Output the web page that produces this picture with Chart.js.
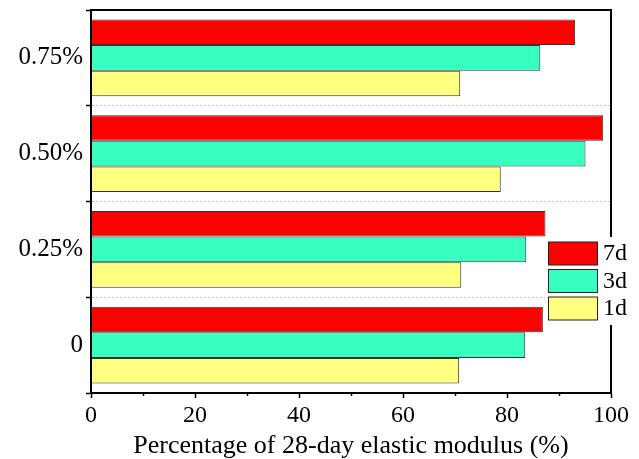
<!DOCTYPE html>
<html>
<head>
<meta charset="utf-8">
<script src="https://cdn.jsdelivr.net/npm/chart.js@4/dist/chart.umd.min.js"></script>
<style>
  html, body { margin: 0; padding: 0; background: #fff; }
  #wrap { width: 639px; height: 459px; }
</style>
</head>
<body>
<div id="wrap"><canvas id="chart" width="639" height="459"></canvas></div>
<script>
// fiber dosage groups, bottom to top
const dosages = ['0', '0.25%', '0.50%', '0.75%'];
// percentage of the 28-day elastic modulus
const day1 = [70.8, 71.2, 78.8, 71.0];
const day3 = [83.5, 83.7, 95.1, 86.4];
const day7 = [86.9, 87.4, 98.5, 93.1];
const xTicks = [0, 20, 40, 60, 80, 100];
const xMinor = [10, 30, 50, 70, 90];

const serif = '"Liberation Serif", "Times New Roman", serif';

// frame, minor ticks and the boxed legend
const extras = {
  id: 'extras',
  afterDraw(chart) {
    const ctx = chart.ctx;
    const a = chart.chartArea;
    const xs = chart.scales.x;
    ctx.save();
    ctx.strokeStyle = '#000';
    ctx.lineWidth = 2;
    ctx.setLineDash([]);
    ctx.strokeRect(a.left, a.top, a.right - a.left, a.bottom - a.top);
    ctx.lineWidth = 1.5;
    xMinor.forEach(v => {
      const px = Math.round(xs.getPixelForValue(v)) + 0.5;
      ctx.beginPath();
      ctx.moveTo(px, a.bottom);
      ctx.lineTo(px, a.bottom + 3);
      ctx.stroke();
    });

    // legend (7d on top)
    ctx.fillStyle = '#fff';
    ctx.fillRect(545, 237, 90, 88);
    const sets = chart.data.datasets;
    ctx.font = '24px ' + serif;
    ctx.textBaseline = 'middle';
    ctx.textAlign = 'left';
    sets.forEach((ds, i) => {
      const y = 242 + i * 27.5;
      ctx.fillStyle = ds.backgroundColor;
      ctx.fillRect(548.5, y, 49, 23);
      ctx.strokeStyle = '#222';
      ctx.lineWidth = 1;
      ctx.strokeRect(548.5, y, 49, 23);
      ctx.fillStyle = '#000';
      ctx.fillText(ds.label, 603, y + 12);
    });
    ctx.restore();
  }
};

new Chart(document.getElementById('chart'), {
  type: 'bar',
  data: {
    labels: dosages,
    datasets: [
      { label: '7d', data: day7, backgroundColor: '#FF0000', borderColor: '#333', borderWidth: 1 },
      { label: '3d', data: day3, backgroundColor: '#36FFC0', borderColor: '#333', borderWidth: 1 },
      { label: '1d', data: day1, backgroundColor: '#FFFF80', borderColor: '#333', borderWidth: 1 }
    ]
  },
  options: {
    indexAxis: 'y',
    responsive: false,
    animation: false,
    layout: { padding: { left: 0, right: 28, top: 10, bottom: 0 } },
    datasets: {
      bar: { categoryPercentage: 0.8, barPercentage: 1.0 }
    },
    plugins: {
      legend: { display: false },
      tooltip: { enabled: false }
    },
    scales: {
      x: {
        min: 0,
        max: 100,
        afterBuildTicks: s => { s.ticks = xTicks.map(v => ({ value: v })); },
        ticks: {
          color: '#000',
          font: { family: serif, size: 24 },
          padding: 3,
          maxRotation: 0
        },
        grid: {
          drawOnChartArea: false,
          drawTicks: true,
          tickLength: 5,
          tickColor: '#000',
          tickWidth: 1.5
        },
        border: { color: '#000', width: 2 },
        title: {
          display: true,
          text: 'Percentage of 28-day elastic modulus (%)',
          color: '#000',
          font: { family: serif, size: 26, lineHeight: 1.0 },
          padding: { top: 0, bottom: 0 }
        },
        afterFit: s => { s.height = 66; }
      },
      y: {
        reverse: true,
        ticks: {
          color: '#000',
          font: { family: serif, size: 25 },
          padding: 3
        },
        grid: {
          offset: true,
          color: '#cccccc',
          tickLength: 5,
          tickColor: '#000',
          tickWidth: 1.5
        },
        border: { color: '#000', width: 2, dash: [2, 2] },
        afterFit: s => { s.width = 91; s.paddingTop = 0; s.paddingBottom = 0; }
      }
    }
  },
  plugins: [extras]
});
</script>
</body>
</html>
